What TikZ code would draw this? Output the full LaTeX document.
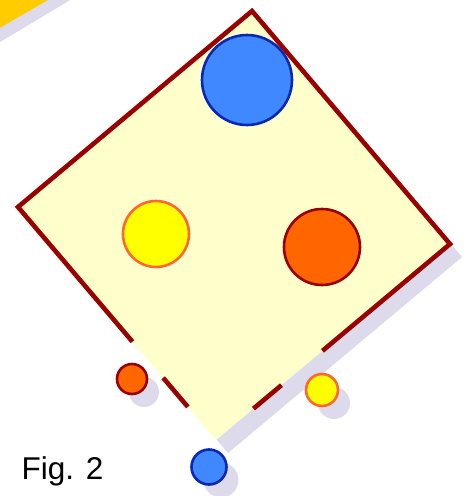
\documentclass[tikz,border=0pt]{standalone}
\usepackage{fontspec}
\setmainfont{Liberation Sans}
\usetikzlibrary{positioning,calc,shadows}
\definecolor{paleyellow}{HTML}{FFFFCC}
\definecolor{framered}{HTML}{990000}
\definecolor{shadowlav}{HTML}{DDDBEB}
\definecolor{cornergold}{HTML}{FFCC00}
\definecolor{ballblue}{HTML}{4088FF}
\definecolor{ballblueline}{HTML}{0A28B4}
\definecolor{ballorange}{HTML}{FF6600}
\definecolor{ballyellow}{HTML}{FFFF00}
\definecolor{ballyellowline}{HTML}{FF6633}
\tikzset{
  ball/.style={circle, draw, line width=2.6pt, inner sep=0pt},
  blueball/.style={ball, fill=ballblue, draw=ballblueline},
  yellowball/.style={ball, fill=ballyellow, draw=ballyellowline},
  orangeball/.style={ball, fill=ballorange, draw=framered},
  shadowed/.style={drop shadow={shadow xshift=12pt, shadow yshift=-13pt, fill=shadowlav, opacity=1}},
  frameline/.style={draw=framered, line width=4.6pt, line cap=butt},
  figlabel/.style={font=\fontsize{31.5}{38}\selectfont, inner sep=0pt},
}

\begin{document}
\begin{tikzpicture}[x=1pt, y=-1pt]
  \clip (0,0) rectangle (466,496);
  % corner piece, top left
  \fill[shadowlav] (-40,-40) -- (-40,66) -- (137,-40) -- cycle;
  \fill[cornergold] (-40,-40) -- (-40,51) -- (117,-40) -- cycle;
  % the tilted square
  \coordinate (top) at (252,11);
  \coordinate (right) at (450,244);
  \coordinate (bottom) at (216,440);
  \coordinate (left) at (18,207);
  \fill[shadowlav] ([shift={(12,13)}]top) -- ([shift={(12,13)}]right) -- ([shift={(12,13)}]bottom) -- ([shift={(12,13)}]left) -- cycle;
  \fill[paleyellow] (top) -- (right) -- (bottom) -- (left) -- cycle;
  \draw[frameline, line join=miter] ($(left)!0.578!(bottom)$) -- (left) -- (top) -- (right) -- ($(right)!0.545!(bottom)$);
  \draw[frameline] ($(left)!0.733!(bottom)$) -- ($(left)!0.858!(bottom)$);
  \draw[frameline] ($(right)!0.72!(bottom)$) -- ($(right)!0.84!(bottom)$);
  % balls inside
  \node[blueball, minimum size=90pt] (bigblue) at (247,80) {};
  \node[yellowball, minimum size=66pt] (midyellow) at (156,234) {};
  \node[orangeball, minimum size=76pt] (midorange) at (322,247) {};
  % small balls outside
  \node[orangeball, shadowed, minimum size=30pt] (smallorange) at (132,379) {};
  \node[yellowball, shadowed, minimum size=32pt] (smallyellow) at (322,390) {};
  \node[blueball, shadowed, minimum size=35pt] (smallblue) at (209,467) {};
  \node[figlabel, anchor=base west] (caption) at (21.5,479) {Fig. 2};
\end{tikzpicture}
\end{document}
